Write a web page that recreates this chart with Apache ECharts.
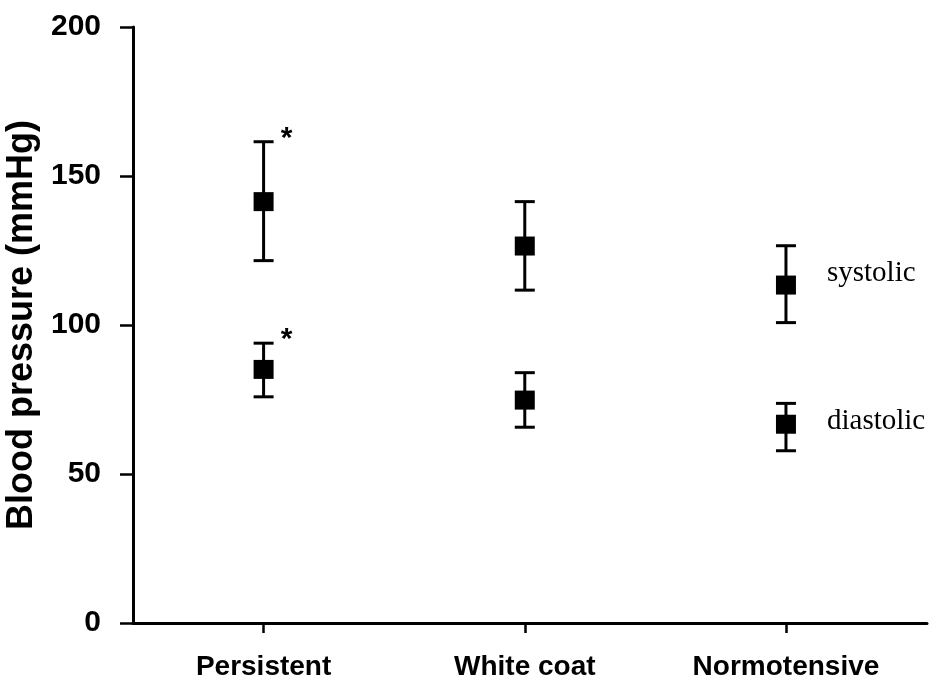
<!DOCTYPE html>
<html>
<head>
<meta charset="utf-8">
<script src="https://cdn.jsdelivr.net/npm/echarts@6/dist/echarts.min.js"></script>
<style>
  html, body { margin: 0; padding: 0; background: #fff; }
  #chart { width: 943px; height: 685px; }
</style>
</head>
<body>
<div id="chart"></div>
<script>
// Groups along the x axis
const categories = ['Persistent', 'White coat', 'Normotensive'];
// Blood pressure means and error-bar ends (mmHg)
const systolicMean = [141.4, 126.5, 113.4];
const systolicLow  = [121.6, 111.7, 100.8];
const systolicHigh = [161.5, 141.4, 126.6];
const diastolicMean = [85.1, 74.8, 66.7];
const diastolicLow  = [75.9, 65.7, 57.8];
const diastolicHigh = [93.9, 84.0, 73.7];
// Groups marked as significantly different (*)
const systolicSig  = [true, false, false];
const diastolicSig = [true, false, false];
const yTicks = [0, 50, 100, 150, 200];

const xPos = categories.map((c, i) => i + 0.5);
const nameByPos = v => categories[Math.round(v - 0.5)] || '';

const chart = echarts.init(document.getElementById('chart'));

function errorBars(mean, low, high) {
  return {
    type: 'custom',
    silent: true,
    z: 2,
    data: mean.map((m, i) => [xPos[i], low[i], high[i]]),
    renderItem(params, api) {
      const x = api.value(0);
      const lo = api.coord([x, api.value(1)]);
      const hi = api.coord([x, api.value(2)]);
      const hw = 10;
      const style = { stroke: '#000', lineWidth: 3 };
      return {
        type: 'group',
        children: [
          { type: 'line', shape: { x1: lo[0], y1: lo[1], x2: hi[0], y2: hi[1] }, style },
          { type: 'line', shape: { x1: lo[0] - hw, y1: lo[1], x2: lo[0] + hw, y2: lo[1] }, style },
          { type: 'line', shape: { x1: hi[0] - hw, y1: hi[1], x2: hi[0] + hw, y2: hi[1] }, style }
        ]
      };
    }
  };
}

function markers(mean, name, offsetY) {
  return {
    type: 'scatter',
    name,
    symbol: 'rect',
    symbolSize: [20, 19],
    itemStyle: { color: '#000', opacity: 1 },
    z: 3,
    data: mean.map((m, i) => ({
      value: [xPos[i], m],
      label: i === mean.length - 1 ? {
        show: true,
        formatter: name,
        position: 'right',
        distance: 31,
        offset: [0, offsetY],
        fontFamily: 'Liberation Serif',
        fontSize: 29,
        color: '#000',
        opacity: 1
      } : { show: false }
    }))
  };
}

function stars(high, sig) {
  return {
    type: 'scatter',
    symbolSize: 0,
    silent: true,
    z: 4,
    itemStyle: { opacity: 1 },
    data: high.map((h, i) => sig[i] ? [xPos[i], h] : null).filter(d => d),
    label: {
      show: true,
      formatter: '*',
      position: 'inside',
      offset: [23, -3],
      fontFamily: 'Liberation Sans',
      fontWeight: 'bold',
      fontSize: 30,
      color: '#000',
      opacity: 1
    }
  };
}

chart.setOption({
  animation: false,
  backgroundColor: '#fff',
  grid: { left: 133, right: 16, top: 27, bottom: 62, containLabel: false, outerBoundsMode: 'none' },
  xAxis: {
    type: 'value',
    min: 0,
    max: 3.04,
    splitLine: { show: false },
    axisLine: { show: true, lineStyle: { color: '#000', width: 3 } },
    axisTick: { show: true, customValues: xPos, length: 10, lineStyle: { color: '#000', width: 2.5 } },
    axisLabel: {
      customValues: xPos,
      formatter: v => nameByPos(v),
      margin: 30,
      fontFamily: 'Liberation Sans',
      fontWeight: 'bold',
      fontSize: 28,
      color: '#000'
    }
  },
  yAxis: {
    type: 'value',
    min: 0,
    max: 200,
    interval: 50,
    name: 'Blood pressure (mmHg)',
    nameLocation: 'middle',
    nameGap: 84,
    nameRotate: 90,
    nameTextStyle: { fontFamily: 'Liberation Sans', fontWeight: 'bold', fontSize: 36, color: '#000' },
    splitLine: { show: false },
    axisLine: { show: true, lineStyle: { color: '#000', width: 3 } },
    axisTick: { show: true, length: 13, lineStyle: { color: '#000', width: 2.5 } },
    axisLabel: {
      customValues: yTicks,
      margin: 32,
      fontFamily: 'Liberation Sans',
      fontWeight: 'bold',
      fontSize: 30,
      color: '#000'
    }
  },
  series: [
    errorBars(systolicMean, systolicLow, systolicHigh),
    errorBars(diastolicMean, diastolicLow, diastolicHigh),
    markers(systolicMean, 'systolic', -12),
    markers(diastolicMean, 'diastolic', -3),
    stars(systolicHigh, systolicSig),
    stars(diastolicHigh, diastolicSig)
  ]
});
</script>
</body>
</html>
